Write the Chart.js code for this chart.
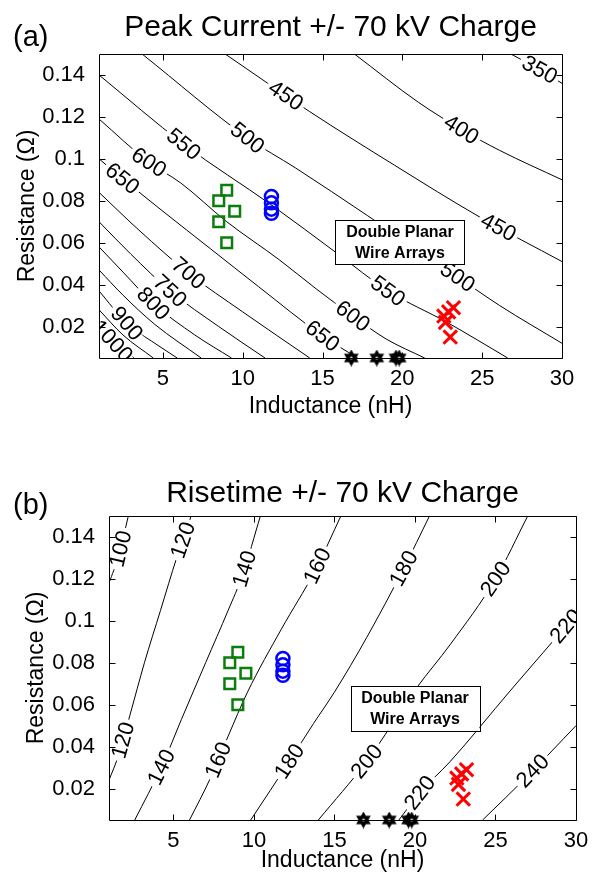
<!DOCTYPE html>
<html lang="en">
<head>
<meta charset="UTF-8">
<title>Peak Current and Risetime, +/- 70 kV Charge</title>
<script src="https://cdn.jsdelivr.net/npm/chart.js"></script>
<style>
  body { margin: 0; background: #fff; width: 597px; height: 874px; position: relative; overflow: hidden;
         font-family: "Liberation Sans", Arial, sans-serif; }
  canvas { position: absolute; left: 0; }
  .tag { position: absolute; left: 13px; font-size: 29px; line-height: 34px; color: #000; }
</style>
</head>
<body>
<canvas id="chartA" width="597" height="430" style="top:0"></canvas>
<canvas id="chartB" width="597" height="444" style="top:430px"></canvas>
<div class="tag" style="top:19px">(a)</div>
<div class="tag" style="top:487px">(b)</div>

<script>
// axes
const inductanceTicks = [5, 10, 15, 20, 25, 30];
const resistanceTicks = [0.02, 0.04, 0.06, 0.08, 0.1, 0.12, 0.14];

// measured wire-array loads (same points on both panels)
const squareL = [9.0, 8.5, 9.5, 8.5, 9.0];
const squareR = [0.085, 0.080, 0.075, 0.070, 0.060];
const circleL = [11.8, 11.8, 11.8, 11.8];
const circleR = [0.082, 0.079, 0.076, 0.074];
const crossL = [23.2, 22.9, 22.6, 22.7, 23.0];
const crossR = [0.029, 0.027, 0.025, 0.022, 0.015];
const starL = [16.8, 18.4, 19.6, 19.8];
const starR = [0.005, 0.005, 0.005, 0.005];

// (a) peak current contours, traced [L nH, R ohm]
const peakLevels = [350, 400, 450, 500, 550, 600, 650, 700, 750, 800, 850, 900, 950, 1000];
const peak350 = [[26.8, 0.150], [28.6, 0.1425], [30, 0.136]];
const peak400 = [[17.0, 0.150], [21, 0.127], [23.7, 0.114], [26.1, 0.104], [30, 0.090]];
const peak450 = [[8.9, 0.150], [14.2, 0.1225], [19.5, 0.097], [24.9, 0.072], [30, 0.051]];
const peak500 = [[3.7, 0.150], [10.3, 0.110], [13.3, 0.0957], [17.8, 0.073], [23.4, 0.044], [26.1, 0.030], [30, 0.012]];
const peak550 = [[1, 0.140], [6.3, 0.107], [11.8, 0.078], [15.9, 0.055], [19.1, 0.037], [22.8, 0.022], [26.6, 0.005]];
const peak600 = [[1, 0.119], [4.1, 0.0985], [6.1, 0.0886], [9, 0.070], [12.3, 0.0518], [14.6, 0.038], [16.9, 0.025], [19, 0.014], [21.4, 0.005]];
const peak650 = [[1, 0.100], [2.4, 0.091], [5, 0.075], [8, 0.057], [11, 0.039], [15, 0.0155], [17.2, 0.005]];
const peak700 = [[1, 0.084], [3.5, 0.066], [6.6, 0.0455], [10, 0.027], [14.2, 0.005]];
const peak750 = [[1, 0.070], [3, 0.0545], [5.45, 0.037], [8.5, 0.020], [11.4, 0.005]];
const peak800 = [[1, 0.058], [2.5, 0.046], [4.4, 0.031], [7, 0.016], [9.3, 0.005]];
const peak850 = [[1, 0.047], [2.5, 0.035], [4.5, 0.021], [7.4, 0.005]];
const peak900 = [[1, 0.037], [2.75, 0.0215], [4.5, 0.012], [5.9, 0.005]];
const peak950 = [[1, 0.028], [2.5, 0.016], [4.4, 0.005]];
const peak1000 = [[1, 0.020], [2.1, 0.011], [3.2, 0.005]];
const peakLines = [peak350, peak400, peak450, peak500, peak550, peak600, peak650,
                   peak700, peak750, peak800, peak850, peak900, peak950, peak1000];
// [level, L, R] where the inline label sits
const peakLabels = [[350, 28.6, 0.1425], [400, 23.7, 0.114], [450, 12.6, 0.129], [450, 26.0, 0.067],
                    [500, 10.3, 0.110], [500, 23.4, 0.043], [550, 6.3, 0.107], [550, 19.1, 0.037],
                    [600, 4.1, 0.098], [600, 16.9, 0.025], [650, 2.4, 0.090], [650, 15.0, 0.0155],
                    [700, 6.6, 0.0455], [750, 5.45, 0.037], [800, 4.4, 0.031], [900, 2.75, 0.0215], [1000, 1.8, 0.0128]];

// (b) risetime contours, traced [L nH, R ohm]
const riseLevels = [100, 120, 140, 160, 180, 200, 220, 240];
const rise100 = [[1, 0.118], [1.6, 0.131], [2.2, 0.150]];
const rise120 = [[1, 0.024], [1.6, 0.036], [2.3, 0.055], [3.2, 0.080], [4.2, 0.105], [5.2, 0.130], [6.1, 0.150]];
const rise140 = [[2.6, 0.005], [4.3, 0.031], [5.5, 0.053], [7.0, 0.080], [8.4, 0.105], [9.3, 0.122], [10.4, 0.150]];
const rise160 = [[6.0, 0.005], [7.3, 0.025], [8.4, 0.045], [9.6, 0.066], [11.7, 0.096], [13.8, 0.124], [15.4, 0.150]];
const rise180 = [[9.8, 0.005], [12.2, 0.033], [13.7, 0.051], [15.0, 0.066], [17.0, 0.092], [19.3, 0.125], [20.9, 0.150]];
const rise200 = [[14.0, 0.005], [17.0, 0.033], [20.1, 0.068], [22.2, 0.0888], [25.0, 0.120], [27.0, 0.150]];
const rise220 = [[19.0, 0.005], [20.3, 0.018], [22.2, 0.033], [25.9, 0.0665], [30, 0.103]];
const rise240 = [[24.2, 0.005], [27, 0.026], [30, 0.050]];
const riseLines = [rise100, rise120, rise140, rise160, rise180, rise200, rise220, rise240];
const riseLabels = [[100, 1.9, 0.134], [120, 5.4, 0.139], [120, 1.9, 0.043], [140, 9.3, 0.125], [140, 4.3, 0.030],
                    [160, 14.0, 0.126], [160, 8.0, 0.033], [180, 19.3, 0.125], [180, 12.2, 0.033],
                    [200, 25.0, 0.120], [200, 17.0, 0.033], [220, 29.3, 0.098], [220, 20.3, 0.018], [240, 27.5, 0.027]];

const FONT = '"Liberation Sans", Arial, sans-serif';

function zip(xs, ys) { return xs.map((x, i) => ({x: x, y: ys[i]})); }

// filled six-point star for the black markers
function hexagram(size) {
  const c = document.createElement('canvas');
  c.width = c.height = size;
  const g = c.getContext('2d');
  const r = size / 2;
  g.beginPath();
  for (let i = 0; i < 12; i++) {
    const a = -Math.PI / 2 + i * Math.PI / 6;
    const rr = i % 2 === 0 ? r : r * 0.58;
    g.lineTo(r + rr * Math.cos(a), r + rr * Math.sin(a));
  }
  g.closePath();
  g.fillStyle = '#000';
  g.fill();
  g.fillStyle = '#fff';
  g.beginPath(); g.arc(r, r, 1.3, 0, Math.PI * 2); g.fill();
  return c;
}
const starImg = hexagram(17);

function markerSets() {
  return [
    {data: zip(starL, starR), pointStyle: starImg, pointRadius: 8, clip: false},
    {data: zip(crossL, crossR), pointStyle: 'crossRot', pointRadius: 9.5, borderWidth: 3,
     borderColor: '#ff0000', clip: false},
    {data: zip(circleL, circleR), pointStyle: 'circle', pointRadius: 6.5, borderWidth: 2.5,
     borderColor: '#0000ff', backgroundColor: 'rgba(0,0,0,0)', clip: false},
    {data: zip(squareL, squareR), pointStyle: 'rect', pointRadius: 7.5, borderWidth: 2.5,
     borderColor: '#0b7d0b', backgroundColor: 'rgba(0,0,0,0)', clip: false}
  ];
}

function contourSets(lines) {
  return lines.map(pts => ({
    data: pts.map(p => ({x: p[0], y: p[1]})),
    showLine: true, pointRadius: 0, borderColor: '#000', borderWidth: 1,
    cubicInterpolationMode: 'monotone', fill: false
  }));
}

function nearestOnPolyline(p, poly) {
  let best = {d: Infinity};
  for (let i = 0; i < poly.length - 1; i++) {
    const a = poly[i], b = poly[i + 1];
    const dx = b.x - a.x, dy = b.y - a.y;
    let t = ((p.x - a.x) * dx + (p.y - a.y) * dy) / (dx * dx + dy * dy);
    t = Math.max(0, Math.min(1, t));
    const qx = a.x + t * dx, qy = a.y + t * dy;
    const d = Math.hypot(p.x - qx, p.y - qy);
    if (d < best.d) best = {d: d, x: qx, y: qy, ang: Math.atan2(dy, dx)};
  }
  return best;
}

// inline contour labels + the text box
function labelPlugin(lines, levels, labels, box) {
  return {
    id: 'contourLabels',
    afterDatasetsDraw(chart) {
      const {ctx, chartArea: a, scales: {x, y}} = chart;
      ctx.save();
      ctx.beginPath();
      ctx.rect(a.left, a.top, a.width, a.height);
      ctx.clip();
      ctx.font = '22px ' + FONT;
      ctx.textAlign = 'center';
      ctx.textBaseline = 'middle';
      labels.forEach(([lev, lx, ly]) => {
        const poly = lines[levels.indexOf(lev)].map(p => ({x: x.getPixelForValue(p[0]), y: y.getPixelForValue(p[1])}));
        const s = nearestOnPolyline({x: x.getPixelForValue(lx), y: y.getPixelForValue(ly)}, poly);
        let ang = s.ang;
        if (ang > Math.PI / 2) ang -= Math.PI;
        if (ang < -Math.PI / 2) ang += Math.PI;
        const txt = String(lev);
        const w = ctx.measureText(txt).width;
        ctx.save();
        ctx.translate(s.x, s.y);
        ctx.rotate(ang);
        ctx.fillStyle = '#fff';
        ctx.fillRect(-w / 2 - 3, -4, w + 6, 8);
        ctx.fillStyle = '#000';
        ctx.fillText(txt, 0, 1);
        ctx.restore();
      });
      ctx.restore();

      // "Double Planar Wire Arrays" box
      const x0 = x.getPixelForValue(box[0]), x1 = x.getPixelForValue(box[1]);
      const y0 = y.getPixelForValue(box[2]), y1 = y.getPixelForValue(box[3]);
      ctx.save();
      ctx.fillStyle = '#fff';
      ctx.fillRect(x0, y0, x1 - x0, y1 - y0);
      ctx.strokeStyle = '#000';
      ctx.lineWidth = 1;
      ctx.strokeRect(Math.round(x0) + 0.5, Math.round(y0) + 0.5, Math.round(x1 - x0), Math.round(y1 - y0));
      ctx.fillStyle = '#000';
      ctx.font = 'bold 16px ' + FONT;
      ctx.textAlign = 'center';
      ctx.textBaseline = 'middle';
      const cx = (x0 + x1) / 2, cy = (y0 + y1) / 2;
      ctx.fillText('Double Planar', cx, cy - 10);
      ctx.fillText('Wire Arrays', cx, cy + 11);
      ctx.restore();
    }
  };
}

// box round the axes with inward ticks on all four sides
const framePlugin = {
  id: 'frame',
  afterDraw(chart) {
    const {ctx, chartArea: a, scales: {x, y}} = chart;
    const L = Math.round(a.left) + 0.5, R = Math.round(a.right) + 0.5;
    const T = Math.round(a.top) + 0.5, B = Math.round(a.bottom) + 0.5;
    ctx.save();
    ctx.strokeStyle = '#000';
    ctx.lineWidth = 1;
    ctx.beginPath();
    ctx.rect(L, T, R - L, B - T);
    x.ticks.forEach(t => {
      const px = Math.round(x.getPixelForValue(t.value)) + 0.5;
      ctx.moveTo(px, B); ctx.lineTo(px, B - 6);
      ctx.moveTo(px, T); ctx.lineTo(px, T + 6);
    });
    y.ticks.forEach(t => {
      const py = Math.round(y.getPixelForValue(t.value)) + 0.5;
      ctx.moveTo(L, py); ctx.lineTo(L + 6, py);
      ctx.moveTo(R, py); ctx.lineTo(R - 6, py);
    });
    ctx.stroke();
    ctx.restore();
  }
};

function makeChart(id, title, lines, levels, labels, box, lay) {
  return new Chart(document.getElementById(id), {
    type: 'scatter',
    data: {datasets: markerSets().concat(contourSets(lines))},
    options: {
      responsive: false,
      animation: false,
      events: [],
      layout: {padding: {left: 0, right: lay.right, top: lay.top, bottom: 0}},
      plugins: {
        legend: {display: false},
        tooltip: {enabled: false},
        title: {
          display: true, text: title, color: '#000', fullSize: false,
          font: {family: FONT, size: 30, weight: 'normal'},
          padding: {top: 0, bottom: lay.titleGap}
        }
      },
      scales: {
        x: {
          type: 'linear', min: 1, max: 30,
          grid: {display: false}, border: {display: false},
          ticks: {color: '#000', font: {family: FONT, size: 22}, padding: 0},
          afterBuildTicks: s => { s.ticks = inductanceTicks.map(v => ({value: v})); },
          afterFit: s => { s.height = lay.xh; },
          title: {display: true, text: 'Inductance (nH)', color: '#000',
                  font: {family: FONT, size: 23}, padding: {top: 0, bottom: lay.xtitle}}
        },
        y: {
          type: 'linear', min: 0.005, max: 0.15,
          grid: {display: false}, border: {display: false},
          ticks: {color: '#000', font: {family: FONT, size: 22}, padding: 6,
                  callback: v => String(+v.toFixed(2))},
          afterBuildTicks: s => { s.ticks = resistanceTicks.map(v => ({value: v})); },
          afterFit: s => { s.width = lay.yw; },
          title: {display: true, text: 'Resistance (\u03A9)', color: '#000',
                  font: {family: FONT, size: 23}, padding: {top: lay.ytitle, bottom: 0}}
        }
      }
    },
    plugins: [labelPlugin(lines, levels, labels, box), framePlugin]
  });
}

makeChart('chartA', 'Peak Current +/- 70 kV Charge', peakLines, peakLevels, peakLabels,
          [15.8, 23.9, 0.0706, 0.0494],
          {top: 10, titleGap: 8, right: 35, xh: 72, xtitle: 10, yw: 99, ytitle: 14});
makeChart('chartB', 'Risetime +/- 70 kV Charge', riseLines, riseLevels, riseLabels,
          [16.0, 24.0, 0.0689, 0.0476],
          {top: 46, titleGap: 4, right: 21, xh: 54, xtitle: 0, yw: 109, ytitle: 23});
</script>
</body>
</html>
